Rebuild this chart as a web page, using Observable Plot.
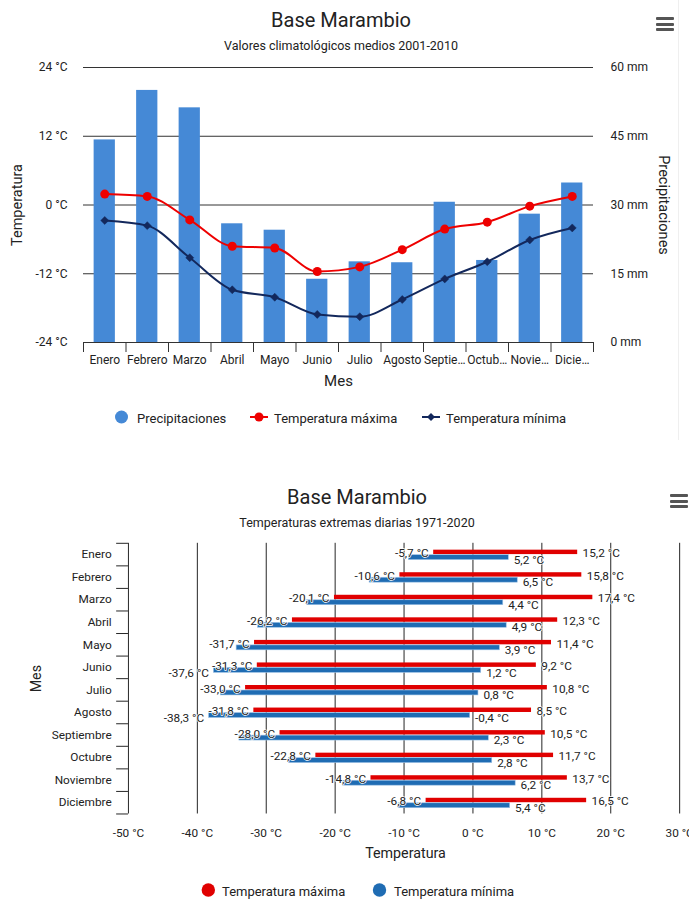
<!DOCTYPE html>
<html>
<head>
<meta charset="utf-8">
<script src="https://cdn.jsdelivr.net/npm/d3@7"></script>
<script src="https://cdn.jsdelivr.net/npm/@observablehq/plot@0.6"></script>
<style>
  body { margin: 0; background: #fff; font-family: Roboto, "Noto Sans", sans-serif; color: #222; }
  #root { position: relative; width: 689px; height: 900px; overflow: hidden; background: #fff; }
  .abs { position: absolute; white-space: nowrap; }
  .title { font-size: 20px; transform: translate(-50%, -50%); color: #222; }
  .sub { font-size: 12.5px; transform: translate(-50%, -50%); color: #222; }
  .leg { font-size: 13px; transform: translateY(-50%); color: #222; }
  .burger { width: 18px; height: 14px; }
  .burger div { height: 3px; background: #555; margin-bottom: 2.5px; border-radius: 1px; }
  svg { overflow: visible; }
</style>
</head>
<body>
<div id="root">
  <div class="abs" style="left:678px;top:0;width:1px;height:440px;background:#efefef"></div>

  <div class="abs title" style="left:341px;top:20px">Base Marambio</div>
  <div class="abs sub" style="left:341px;top:45px">Valores climatológicos medios 2001-2010</div>
  <div class="abs burger" style="left:656px;top:17px"><div></div><div></div><div></div></div>
  <div id="chart1" class="abs" style="left:0;top:55px"></div>

  <svg class="abs" style="left:0;top:0" width="689" height="900" id="legsvg"></svg>
  <div class="abs leg" style="left:137px;top:417.5px">Precipitaciones</div>
  <div class="abs leg" style="left:274px;top:417.5px">Temperatura máxima</div>
  <div class="abs leg" style="left:446px;top:417.5px">Temperatura mínima</div>

  <div class="abs title" style="left:357px;top:497px">Base Marambio</div>
  <div class="abs sub" style="left:357px;top:522px">Temperaturas extremas diarias 1971-2020</div>
  <div class="abs burger" style="left:670px;top:494px"><div></div><div></div><div></div></div>
  <div id="chart2" class="abs" style="left:0;top:531px"></div>

  <div class="abs leg" style="left:222px;top:890.5px">Temperatura máxima</div>
  <div class="abs leg" style="left:394px;top:890.5px">Temperatura mínima</div>
</div>
<script>
// ---------- Chart 1 data ----------
const months = ["Enero","Febrero","Marzo","Abril","Mayo","Junio","Julio","Agosto","Septiembre","Octubre","Noviembre","Diciembre"];
const topTickLabels = ["Enero","Febrero","Marzo","Abril","Mayo","Junio","Julio","Agosto","Septie…","Octub…","Novie…","Dicie…"];
const precipitation = [44.2, 55.0, 51.2, 25.9, 24.5, 13.8, 17.6, 17.4, 30.6, 17.9, 28.0, 34.8];
const tempMax = [1.9, 1.5, -2.6, -7.2, -7.5, -11.6, -10.8, -7.8, -4.2, -3.0, -0.2, 1.5];
const tempMin = [-2.7, -3.6, -9.2, -14.8, -16.1, -19.1, -19.5, -16.5, -12.9, -9.9, -6.1, -4.0];
const tempTicks = [-24, -12, 0, 12, 24];
const precipTicks = [0, 15, 30, 45, 60];

// ---------- Chart 2 data ----------
const extMaxHigh = [15.2, 15.8, 17.4, 12.3, 11.4, 9.2, 10.8, 8.5, 10.5, 11.7, 13.7, 16.5];
const extMaxLow = [-5.7, -10.6, -20.1, -26.2, -31.7, -31.3, -33.0, -31.8, -28.0, -22.8, -14.8, -6.8];
const extMinHigh = [5.2, 6.5, 4.4, 4.9, 3.9, 1.2, 0.8, -0.4, 2.3, 2.8, 6.2, 5.4];
const extMinLow = [-9.3, -15.0, -24.1, -31.2, -34.3, -37.6, -36.6, -38.3, -33.9, -26.7, -18.9, -10.8];
const extTicks = [-50, -40, -30, -20, -10, 0, 10, 20, 30];

const RED1 = "#ee0000", NAVY = "#13285c", BARBLUE = "#4589d6";
const RED2 = "#e00000", BLUE2 = "#1f6cb3";
const font = {fontFamily: "Roboto, 'Noto Sans', sans-serif", fontSize: "12px", color: "#222", background: "transparent", overflow: "visible"};
const centered = {textAnchor: "middle", lineAnchor: "middle", fill: "#222"};

// ---------- Chart 1 ----------
const W1 = 689, ML1 = 83, MR1 = 96, MT1 = 12, MB1 = 50, H1 = 337;
const step1 = (W1 - ML1 - MR1) / 12;
const toC = mm => -24 + mm * 48 / 60; // map precipitation axis (0–60 mm) onto temperature axis (-24–24 °C)
const topData = topTickLabels.map((m, i) => ({m, p: precipitation[i], tmax: tempMax[i], tmin: tempMin[i]}));

const chart1 = Plot.plot({
  width: W1, height: H1, marginTop: MT1, marginBottom: MB1, marginLeft: ML1, marginRight: MR1,
  style: font,
  x: {type: "band", domain: topTickLabels, paddingInner: 0.5, paddingOuter: 0.25, round: false, label: null},
  y: {domain: [-24, 24], axis: null, label: null},
  marks: [
    Plot.ruleY(tempTicks, {y: d => d, stroke: "#333", strokeWidth: 1}),
    Plot.barY(topData, {x: "m", y1: d => -24, y2: d => toC(d.p), fill: BARBLUE}),
    Plot.line(topData, {x: "m", y: "tmax", stroke: RED1, strokeWidth: 2, curve: "monotone-x"}),
    Plot.line(topData, {x: "m", y: "tmin", stroke: NAVY, strokeWidth: 2, curve: "monotone-x"}),
    Plot.dot(topData, {x: "m", y: "tmax", r: 4.5, fill: RED1}),
    Plot.dot(topData, {x: "m", y: "tmin", r: 3.6, symbol: "diamond2", fill: NAVY, stroke: NAVY, strokeWidth: 0.5}),
    Plot.ruleX(topTickLabels, {x: d => d, y1: d => -24, y2: d => -24, insetBottom: -10, dx: -step1 / 2, stroke: "#333"}),
    Plot.ruleX(topTickLabels.slice(-1), {x: d => d, y1: d => -24, y2: d => -24, insetBottom: -10, dx: step1 / 2, stroke: "#333"}),
    Plot.axisX({tickSize: 0, tickPadding: 13, label: null, fontSize: 12}),
    Plot.text(tempTicks, {y: d => d, frameAnchor: "left", dx: -16, textAnchor: "end", lineAnchor: "middle", text: d => `${d} °C`, fill: "#222"}),
    Plot.text(precipTicks, {y: d => toC(d), frameAnchor: "right", dx: 17, textAnchor: "start", lineAnchor: "middle", text: d => `${d} mm`, fill: "#222"}),
    Plot.text(["Temperatura"], {frameAnchor: "left", dx: -66, rotate: -90, fontSize: 14.5, ...centered}),
    Plot.text(["Precipitaciones"], {frameAnchor: "right", dx: 70, rotate: 90, fontSize: 14.5, ...centered}),
    Plot.text(["Mes"], {frameAnchor: "bottom", dy: 39, fontSize: 15, ...centered})
  ]
});
document.getElementById("chart1").append(chart1);

// ---------- Chart 2 ----------
const W2 = 700, ML2 = 130, MR2 = 10, MT2 = 12, MB2 = 50, H2 = 337;
const step2 = (H2 - MT2 - MB2) / 12;
const fmt = v => v.toFixed(1).replace(".", ",") + " °C";
const botData = months.map((m, i) => ({m, maxHigh: extMaxHigh[i], maxLow: extMaxLow[i], minHigh: extMinHigh[i], minLow: extMinLow[i]}));
const halo = {stroke: "white", strokeWidth: 1.5, paintOrder: "stroke", fill: "#222", fontSize: 12, lineAnchor: "middle"};

const chart2 = Plot.plot({
  width: W2, height: H2, marginTop: MT2, marginBottom: MB2, marginLeft: ML2, marginRight: MR2,
  style: font,
  x: {domain: [-50, 30], label: null},
  y: {type: "band", domain: months, paddingInner: 0, paddingOuter: 0, round: false, label: null},
  marks: [
    Plot.ruleX(extTicks.filter(d => d > -50), {x: d => d, stroke: "#222", strokeWidth: 1}),
    Plot.ruleX([-50], {x: d => d, stroke: "#222", strokeWidth: 1}),
    Plot.ruleY(months, {y: d => d, x1: d => -50, x2: d => -50, insetLeft: -12, dy: -step2 / 2, stroke: "#222"}),
    Plot.ruleY(months.slice(-1), {y: d => d, x1: d => -50, x2: d => -50, insetLeft: -12, dy: step2 / 2, stroke: "#222"}),
    Plot.barX(botData, {y: "m", x1: "maxLow", x2: "maxHigh", fill: RED2, insetTop: step2 / 2 - 4.5, insetBottom: step2 / 2}),
    Plot.barX(botData, {y: "m", x1: "minLow", x2: "minHigh", fill: BLUE2, stroke: "#9fc3e6", strokeWidth: 0.6, insetTop: step2 / 2 + 0.6, insetBottom: step2 / 2 - 5.6}),
    Plot.text(botData, {y: "m", x: "maxLow", text: d => fmt(d.maxLow), textAnchor: "end", dx: -5, dy: -1, ...halo}),
    Plot.text(botData, {y: "m", x: "maxHigh", text: d => fmt(d.maxHigh), textAnchor: "start", dx: 5, dy: -1, ...halo}),
    Plot.text(botData, {y: "m", x: "minHigh", text: d => fmt(d.minHigh), textAnchor: "start", dx: 5, dy: 5.5, ...halo}),
    // low labels of the minimum series are hidden where they would collide with the maximum's labels
    Plot.text(botData.filter(d => d.maxLow - d.minLow >= 6.2), {y: "m", x: "minLow", text: d => fmt(d.minLow), textAnchor: "end", dx: -5, dy: 5.5, ...halo}),
    Plot.axisX(extTicks, {tickSize: 0, tickPadding: 15, tickFormat: d => `${d} °C`, label: null, fontSize: 12}),
    Plot.axisY({tickSize: 0, tickPadding: 17, label: null, fontSize: 12}),
    Plot.text(["Mes"], {frameAnchor: "left", dx: -94, rotate: -90, fontSize: 14.5, ...centered}),
    Plot.text(["Temperatura"], {frameAnchor: "bottom", x: d => -10, dx: 1.5, dy: 40, fontSize: 14.5, ...centered})
  ]
});
document.getElementById("chart2").append(chart2);

// ---------- legend symbols ----------
const leg = d3.select("#legsvg");
leg.append("circle").attr("cx", 121.5).attr("cy", 417).attr("r", 6.5).attr("fill", BARBLUE);
leg.append("line").attr("x1", 250).attr("x2", 268).attr("y1", 417).attr("y2", 417).attr("stroke", RED1).attr("stroke-width", 2);
leg.append("circle").attr("cx", 259).attr("cy", 417).attr("r", 4.5).attr("fill", RED1);
leg.append("line").attr("x1", 422).attr("x2", 440).attr("y1", 417).attr("y2", 417).attr("stroke", NAVY).attr("stroke-width", 2);
leg.append("path").attr("d", "M431,413 L435,417 L431,421 L427,417 Z").attr("fill", NAVY);
leg.append("circle").attr("cx", 208.3).attr("cy", 890).attr("r", 6.7).attr("fill", RED2);
leg.append("circle").attr("cx", 379.5).attr("cy", 890).attr("r", 6.7).attr("fill", BLUE2);
</script>
</body>
</html>
